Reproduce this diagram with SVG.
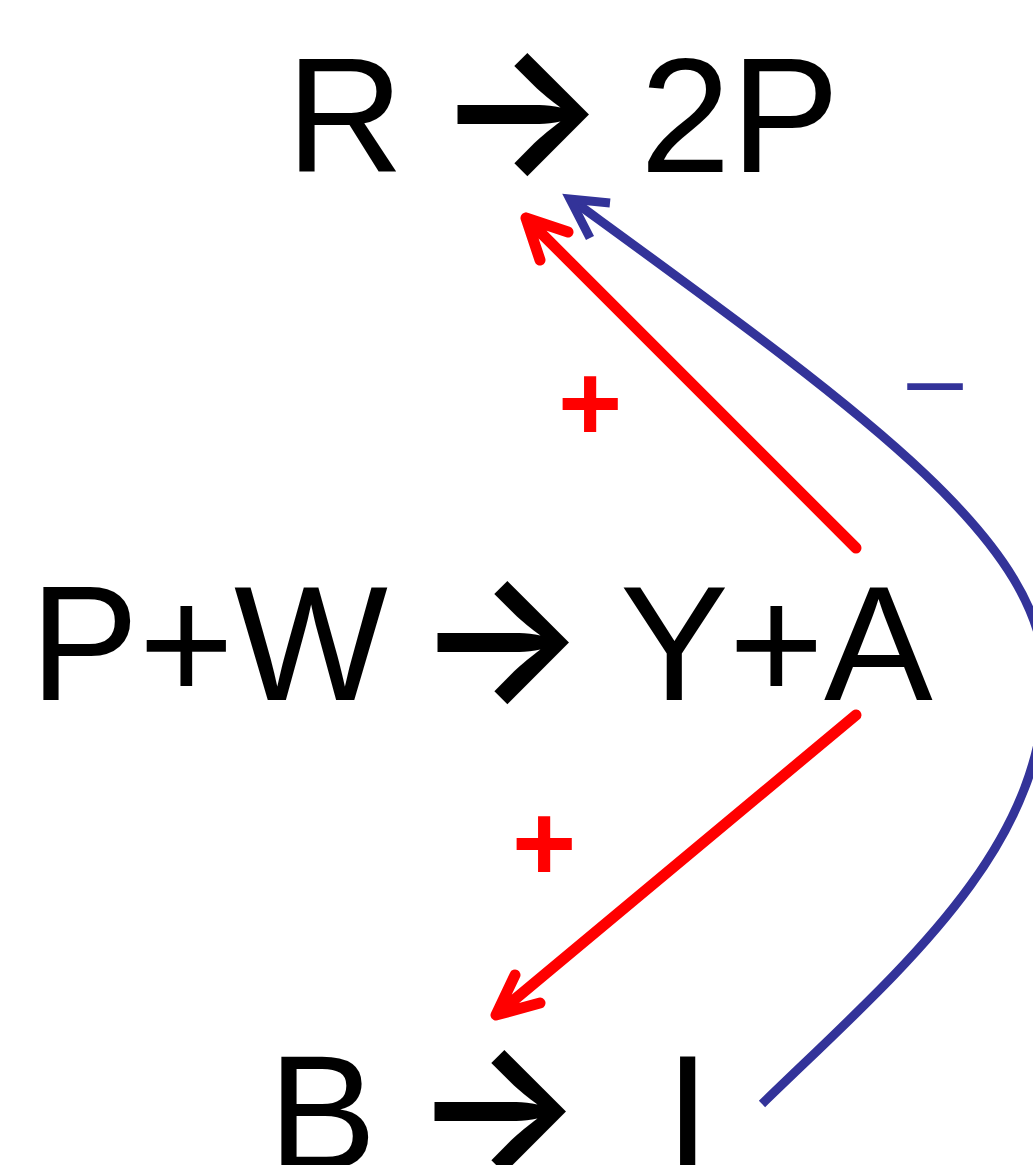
<svg xmlns="http://www.w3.org/2000/svg" width="1033" height="1165" viewBox="0 0 1033 1165">
<style>
.eq{font-family:"Liberation Sans",Arial,sans-serif;font-size:163px;fill:#000}
.ar{font-family:Inter,"DejaVu Sans",sans-serif;font-size:180px;font-weight:600;fill:#000}
.pos{font-family:"Liberation Sans",Arial,sans-serif;font-size:110px;font-weight:bold;fill:#FF0000;text-anchor:middle}
.neg{font-family:"Liberation Sans",Arial,sans-serif;font-size:100px;fill:#333399;text-anchor:middle}
.red{fill:none;stroke:#FF0000;stroke-width:11;stroke-linecap:round;stroke-linejoin:round}
.blue{fill:none;stroke:#333399;stroke-width:9}
</style>
<rect width="1033" height="1165" fill="#fff"/>
<g id="node-r">
<text class="eq" x="286" y="172">R</text>
<text class="ar" x="435" y="172">→</text>
<text class="eq" x="640" y="172">2P</text>
</g>
<g id="node-pw">
<text class="eq" x="30" y="700">P+W</text>
<text class="ar" x="415" y="700">→</text>
<text class="eq" x="620" y="700">Y+A</text>
</g>
<g id="node-b">
<text class="eq" x="268" y="1169">B</text>
<text class="ar" x="412" y="1169">→</text>
<text class="eq" x="665" y="1169">I</text>
</g>
<g id="connectors">
<path class="red" d="M856,548 L526,218 M540,260 L526,218 L568,232"/>
<path class="red" d="M856,715 L496,1015 M515,975 L496,1015 L540,1003"/>
<path class="blue" d="M762,1104 C900,970 1045,850 1045,680 C1045,540 860,410 572,200"/>
<path class="blue" d="M610,203 L570,199 L590,238"/>
<text class="pos" x="590" y="441">+</text>
<text class="pos" x="544" y="881">+</text>
<text class="neg" x="935" y="412">–</text>
</g>
</svg>
